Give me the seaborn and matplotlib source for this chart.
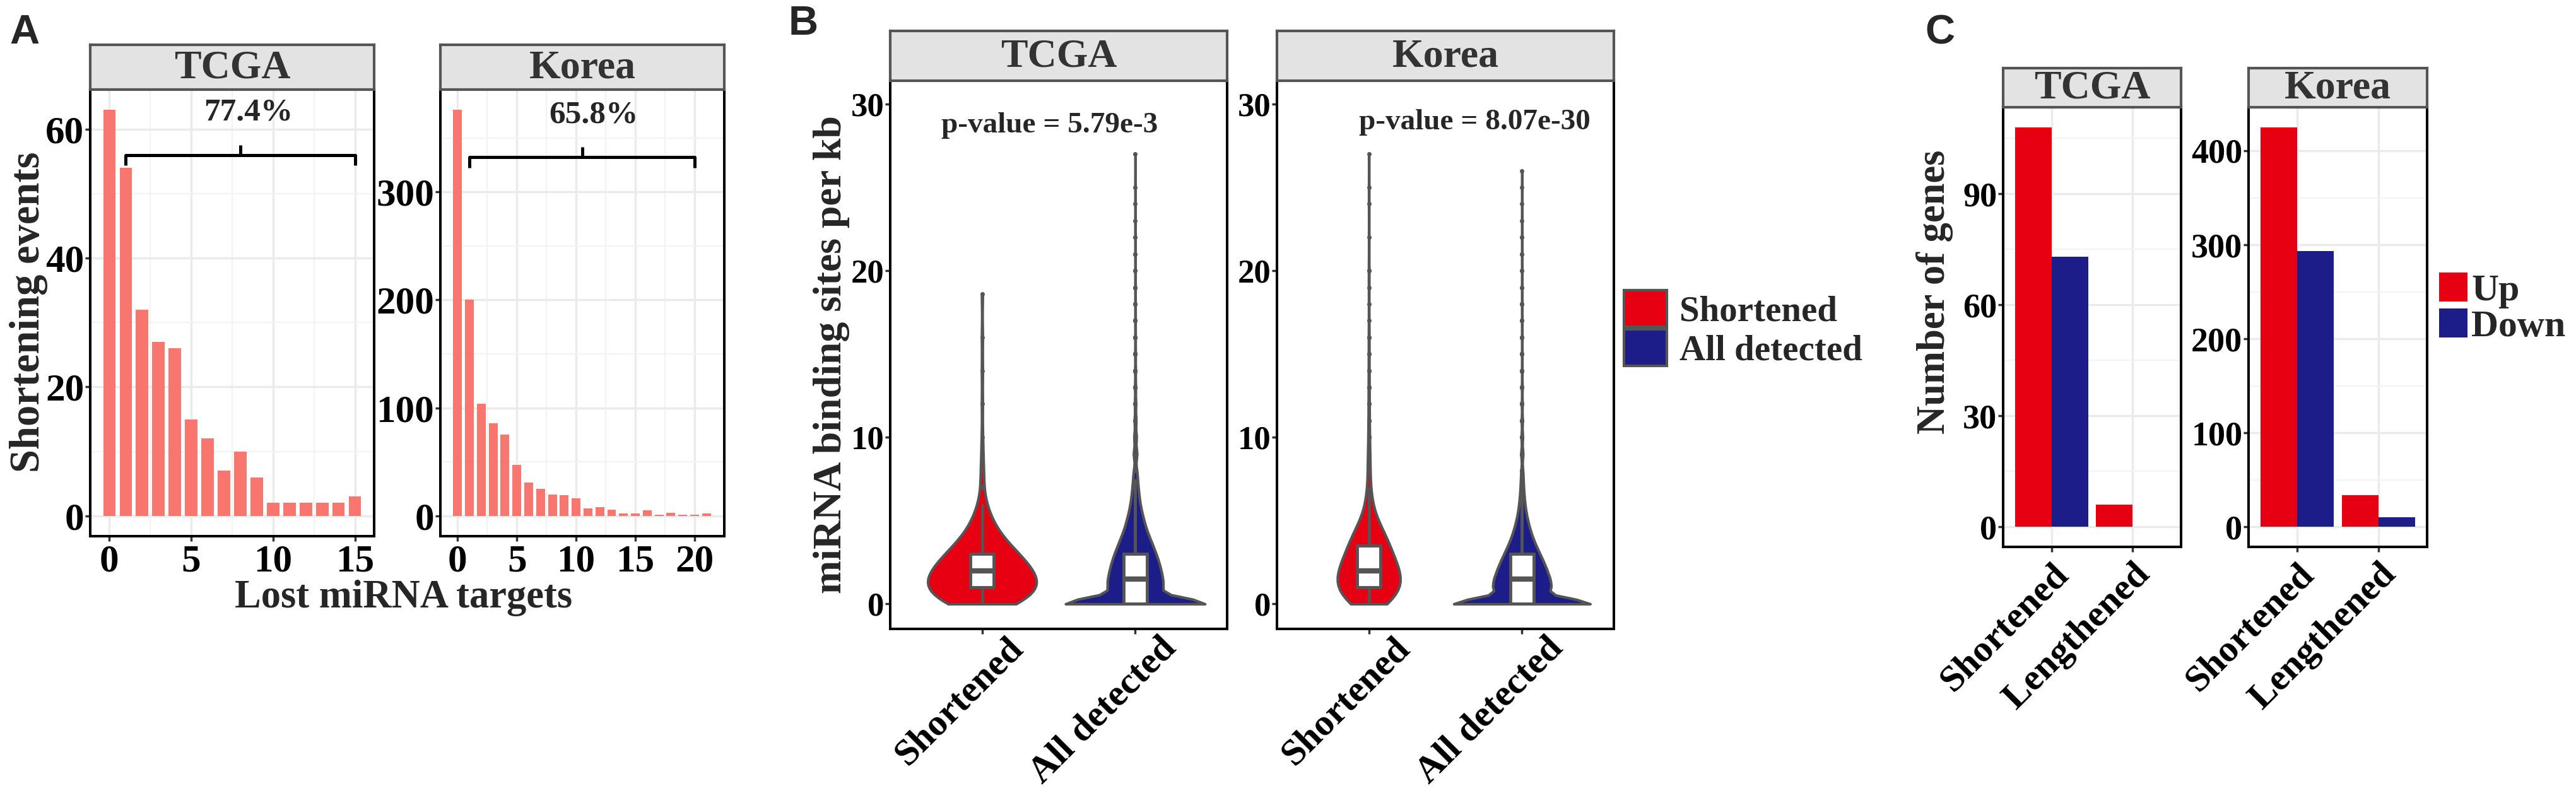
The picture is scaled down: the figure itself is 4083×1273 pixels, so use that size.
import numpy as np
import pandas as pd
import matplotlib
matplotlib.use("Agg")
import matplotlib.pyplot as plt
import matplotlib.transforms as mtransforms
import seaborn as sns
from matplotlib.patches import Patch

W, H = 4083, 1273

cohorts = ["TCGA", "Korea"]

# Panel A: shortening events by number of lost miRNA targets
tcga_lost = list(range(16))
tcga_events = [63, 54, 32, 27, 26, 15, 12, 7, 10, 6, 2, 2, 2, 2, 2, 3]
korea_lost = list(range(22))
korea_events = [376, 200, 104, 86, 75, 47, 31, 25, 20, 19, 16, 7, 8, 6, 2, 2, 5, 1, 3, 1, 1, 2]
lost_pct = ["77.4%", "65.8%"]
bracket_end = [15, 20]

# Panel B: miRNA binding sites per kb (binned values and their counts)
b_groups = ["Shortened", "All detected"]
tcga_short_vals = [0, 0.5, 1, 1.5, 2, 2.5, 3, 3.5, 4, 4.5, 5, 5.5, 6, 7, 8, 9, 10, 12, 14, 16, 18.6]
tcga_short_counts = [28, 32, 34, 34, 30, 26, 22, 16, 12, 8, 6, 4, 3, 2, 2, 1, 1, 1, 1, 1, 1]
tcga_all_vals = [0, 0.5, 1, 1.5, 2, 2.5, 3, 3.5, 4, 4.5, 5, 5.5, 6, 6.5, 7, 7.5, 8, 9, 10,
                 11, 12, 13, 14, 15, 16, 17, 18, 19, 20, 21, 22, 23, 24, 25, 27]
tcga_all_counts = [1900, 400, 520, 500, 470, 430, 380, 320, 260, 200, 160, 120, 90, 70, 55, 42, 34, 50, 35,
                   24, 17, 12, 9, 7, 5, 4, 3, 3, 2, 2, 2, 1, 1, 1, 1]
korea_short_vals = [0, 0.5, 1, 1.5, 2, 2.5, 3, 3.5, 4, 4.5, 5, 5.5, 6, 6.5, 7, 8, 9, 10,
                    11, 12, 13, 14, 15, 16, 17, 18, 19, 20, 22, 24, 25, 27]
korea_short_counts = [80, 100, 110, 115, 105, 92, 80, 70, 62, 44, 30, 17, 12, 9, 7, 10, 7, 5,
                      4, 3, 3, 2, 2, 2, 1, 1, 1, 2, 1, 1, 1, 1]
korea_all_vals = [0, 0.5, 1, 1.5, 2, 2.5, 3, 3.5, 4, 4.5, 5, 5.5, 6, 6.5, 7, 7.5, 8, 9, 10,
                  11, 12, 13, 14, 15, 16, 17, 18, 19, 20, 21, 22, 23, 24, 25, 26]
korea_all_counts = [1900, 480, 620, 580, 520, 450, 370, 290, 220, 165, 120, 85, 62, 45, 34, 26, 20, 30, 20,
                    14, 10, 8, 6, 5, 4, 3, 3, 2, 2, 2, 2, 1, 1, 1, 1]
p_values = ["p-value = 5.79e-3", "p-value = 8.07e-30"]

# Panel C: number of genes up / down
c_types = ["Shortened", "Lengthened"]
c_dirs = ["Up", "Down"]
tcga_up = [108, 6]
tcga_down = [73, 0]
korea_up = [425, 34]
korea_down = [293, 10]

RED = "#E60012"
BLUE = "#1D1D8A"
SALMON = "#F8766D"
GRID = "#EBEBEB"
GRID_MINOR = "#F3F3F3"

sns.set_theme(style="white")
plt.rcParams["font.family"] = ["Liberation Serif", "DejaVu Serif"]
plt.rcParams["font.weight"] = "bold"
plt.rcParams["axes.labelweight"] = "bold"

fig = plt.figure(figsize=(W / 100, H / 100), dpi=100)


def box(x0, y0, x1, y1):
    return fig.add_axes([x0 / W, 1 - y1 / H, (x1 - x0) / W, (y1 - y0) / H])


def strip(x0, y0, x1, y1, label, size=46):
    s = box(x0, y0, x1, y1)
    s.set_facecolor("#E3E3E3")
    s.set_xticks([])
    s.set_yticks([])
    for sp in s.spines.values():
        sp.set_color("#555555")
        sp.set_linewidth(3)
    s.text(0.5, 0.47, label, ha="center", va="center", fontsize=size,
           color="#333333", fontweight="bold", transform=s.transAxes)


def frame(ax, size):
    for sp in ax.spines.values():
        sp.set_visible(True)
        sp.set_color("black")
        sp.set_linewidth(2.9)
    ax.tick_params(which="major", direction="out", length=6, width=2.5, color="#333333",
                   labelsize=size, labelcolor="black", pad=3, bottom=True, left=True)
    ax.tick_params(which="minor", length=0)
    ax.set_xlabel("")
    ax.set_ylabel("")


def gridlines(ax):
    ax.set_axisbelow(True)
    ax.grid(which="major", color=GRID, linewidth=2.5)
    ax.grid(which="minor", color=GRID_MINOR, linewidth=1.6)


# ---------------- Panel A ----------------
a_boxes = [(143, 142, 593, 850), (698, 142, 1148, 850)]
a_data = [(tcga_lost, tcga_events), (korea_lost, korea_events)]
a_xlim = [(-1.16, 16.16), (-1.45, 22.45)]
a_yticks = [[0, 20, 40, 60], [0, 100, 200, 300]]
a_yminor = [[10, 30, 50], [50, 150, 250, 350]]
a_xticks = [[0, 5, 10, 15], [0, 5, 10, 15, 20]]
a_xminor = [[2.5, 7.5, 12.5], [2.5, 7.5, 12.5, 17.5, 22.5]]
a_text_pos = [(8.5, 62.6), (11.5, 371)]

for i, (x0, y0, x1, y1) in enumerate(a_boxes):
    ax = box(x0, y0, x1, y1)
    lost, events = a_data[i]
    sns.barplot(x=lost, y=events, native_scale=True, width=0.74, color=SALMON,
                saturation=1, errorbar=None, linewidth=0, ax=ax)
    top = max(events) * 1.05
    ax.set_xlim(*a_xlim[i])
    ax.set_ylim(-max(events) * 0.05, top)
    ax.set_xticks(a_xticks[i])
    ax.set_xticks(a_xminor[i], minor=True)
    ax.set_yticks(a_yticks[i])
    ax.set_yticks(a_yminor[i], minor=True)
    gridlines(ax)
    frame(ax, 44)
    ax.tick_params(axis="x", pad=3)
    ax.tick_params(axis="y", pad=1)
    # bracket over the events that lost at least one target
    ymax = max(events)
    yb = ymax * (0.889 if i == 0 else 0.883)
    arm = ymax * 0.025
    nub = ymax * 0.025
    xs, xe = 1, bracket_end[i]
    ax.plot([xs, xs, xe, xe], [yb - arm, yb, yb, yb - arm], color="black",
            linewidth=3.6, solid_joinstyle="round", solid_capstyle="butt")
    ax.plot([(xs + xe) / 2] * 2, [yb, yb + nub], color="black", linewidth=3.6,
            solid_capstyle="butt")
    tx, ty = a_text_pos[i]
    ax.text(tx, ty, lost_pct[i], ha="center", va="center", fontsize=37, fontweight="bold")
    strip(x0, 71, x1, y0, cohorts[i])

fig.text(640 / W, 1 - 948 / H, "Lost miRNA targets", ha="center", va="center",
         fontsize=45, fontweight="bold")
fig.text(46 / W, 1 - 495 / H, "Shortening events", ha="center", va="center",
         rotation=90, fontsize=48, fontweight="bold")

# ---------------- Panel B ----------------
b_boxes = [(1411, 128, 1945, 997), (2024, 128, 2558, 997)]
b_data = [
    [(tcga_short_vals, tcga_short_counts), (tcga_all_vals, tcga_all_counts)],
    [(korea_short_vals, korea_short_counts), (korea_all_vals, korea_all_counts)],
]
b_widths = [[0.71, 0.91], [0.41, 0.89]]
b_bw = [1.0, 0.7]
b_colors = [RED, BLUE]
b_text_pos = [(0.44, 28.7), (0.69, 28.9)]
b_shift = mtransforms.ScaledTranslation(0.38, 0.06, fig.dpi_scale_trans)

for i, (x0, y0, x1, y1) in enumerate(b_boxes):
    ax = box(x0, y0, x1, y1)
    frames = []
    for j, g in enumerate(b_groups):
        vals, counts = b_data[i][j]
        y = np.repeat(vals, counts)
        frames.append(pd.DataFrame({"group": g, "value": y}))
        sns.violinplot(x=[g] * len(y), y=y, order=b_groups, color=b_colors[j],
                       width=b_widths[i][j], density_norm="width", cut=0, inner=None,
                       bw_adjust=b_bw[j], linecolor="#555555", linewidth=3,
                       saturation=1, ax=ax)
    df_b = pd.concat(frames, ignore_index=True)
    sns.boxplot(data=df_b, x="group", y="value", order=b_groups, width=0.15,
                color="white", linecolor="#555555", linewidth=3.5, saturation=1,
                showcaps=False, fliersize=4,
                flierprops=dict(marker="o", markerfacecolor="#555555",
                                markeredgecolor="#555555"),
                medianprops=dict(linewidth=6, color="#555555"), ax=ax)
    ax.set_xlim(-0.6, 1.6)
    ax.set_ylim(-1.5, 31.4)
    ax.set_yticks([0, 10, 20, 30])
    ax.grid(False)
    frame(ax, 38)
    ax.tick_params(axis="y", pad=1)
    ax.tick_params(axis="x", labelsize=43, pad=1)
    for lab in ax.get_xticklabels():
        lab.set_rotation(45)
        lab.set_ha("right")
        lab.set_rotation_mode("anchor")
        lab.set_transform(lab.get_transform() + b_shift)
    tx, ty = b_text_pos[i]
    ax.text(tx, ty, p_values[i], ha="center", va="center", fontsize=34, fontweight="bold")
    strip(x0, 49, x1, y0, cohorts[i])

fig.text(1318 / W, 1 - 562 / H, "miRNA binding sites per kb", ha="center", va="center",
         rotation=90, fontsize=46, fontweight="bold")
fig.legend(handles=[Patch(facecolor=c, edgecolor="#555555", linewidth=3) for c in b_colors],
           labels=b_groups, loc="upper left", bbox_to_anchor=(2574 / W, 1 - 460 / H),
           frameon=False, fontsize=41, handlelength=1.2, handleheight=1.2,
           handletextpad=0.34, labelspacing=0.03, borderpad=0, borderaxespad=0)

# ---------------- Panel C ----------------
c_boxes = [(3175, 170, 3457, 867), (3564, 170, 3847, 867)]
c_data = [(tcga_up, tcga_down), (korea_up, korea_down)]
c_yticks = [[0, 30, 60, 90], [0, 100, 200, 300, 400]]
c_yminor = [[15, 45, 75, 105], [50, 150, 250, 350]]

for i, (x0, y0, x1, y1) in enumerate(c_boxes):
    ax = box(x0, y0, x1, y1)
    up, down = c_data[i]
    df_c = pd.DataFrame({"type": c_types * 2,
                         "dir": [c_dirs[0]] * 2 + [c_dirs[1]] * 2,
                         "n": up + down})
    sns.barplot(data=df_c, x="type", y="n", hue="dir", order=c_types, hue_order=c_dirs,
                palette=[RED, BLUE], width=0.9, saturation=1, errorbar=None,
                linewidth=0, legend=False, ax=ax)
    top = max(up + down)
    ax.set_xlim(-0.6, 1.6)
    ax.set_ylim(-top * 0.05, top * 1.05)
    ax.set_yticks(c_yticks[i])
    ax.set_yticks(c_yminor[i], minor=True)
    gridlines(ax)
    ax.grid(which="minor", axis="x", visible=False)
    frame(ax, 39)
    ax.tick_params(axis="y", pad=1)
    ax.tick_params(axis="x", labelsize=43, pad=6)
    plt.setp(ax.get_xticklabels(), rotation=45, ha="right", rotation_mode="anchor")
    strip(x0, 108, x1, y0, cohorts[i])

fig.text(3066 / W, 1 - 463 / H, "Number of genes", ha="center", va="center",
         rotation=90, fontsize=45, fontweight="bold")
fig.legend(handles=[Patch(facecolor=c, linewidth=0) for c in [RED, BLUE]],
           labels=c_dirs, loc="upper left", bbox_to_anchor=(3866 / W, 1 - 432 / H),
           frameon=False, fontsize=43, handlelength=0.76, handleheight=0.82,
           handletextpad=0.1, labelspacing=0.0, borderpad=0, borderaxespad=0)

# panel letters
for letter, (lx, ly) in zip("ABC", [(15, 22), (1250, 8), (3051, 22)]):
    fig.text(lx / W, 1 - ly / H, letter, ha="left", va="top", fontsize=47,
             fontweight="bold", family="Liberation Sans")

fig.savefig("out.png", dpi=100, facecolor="white")
